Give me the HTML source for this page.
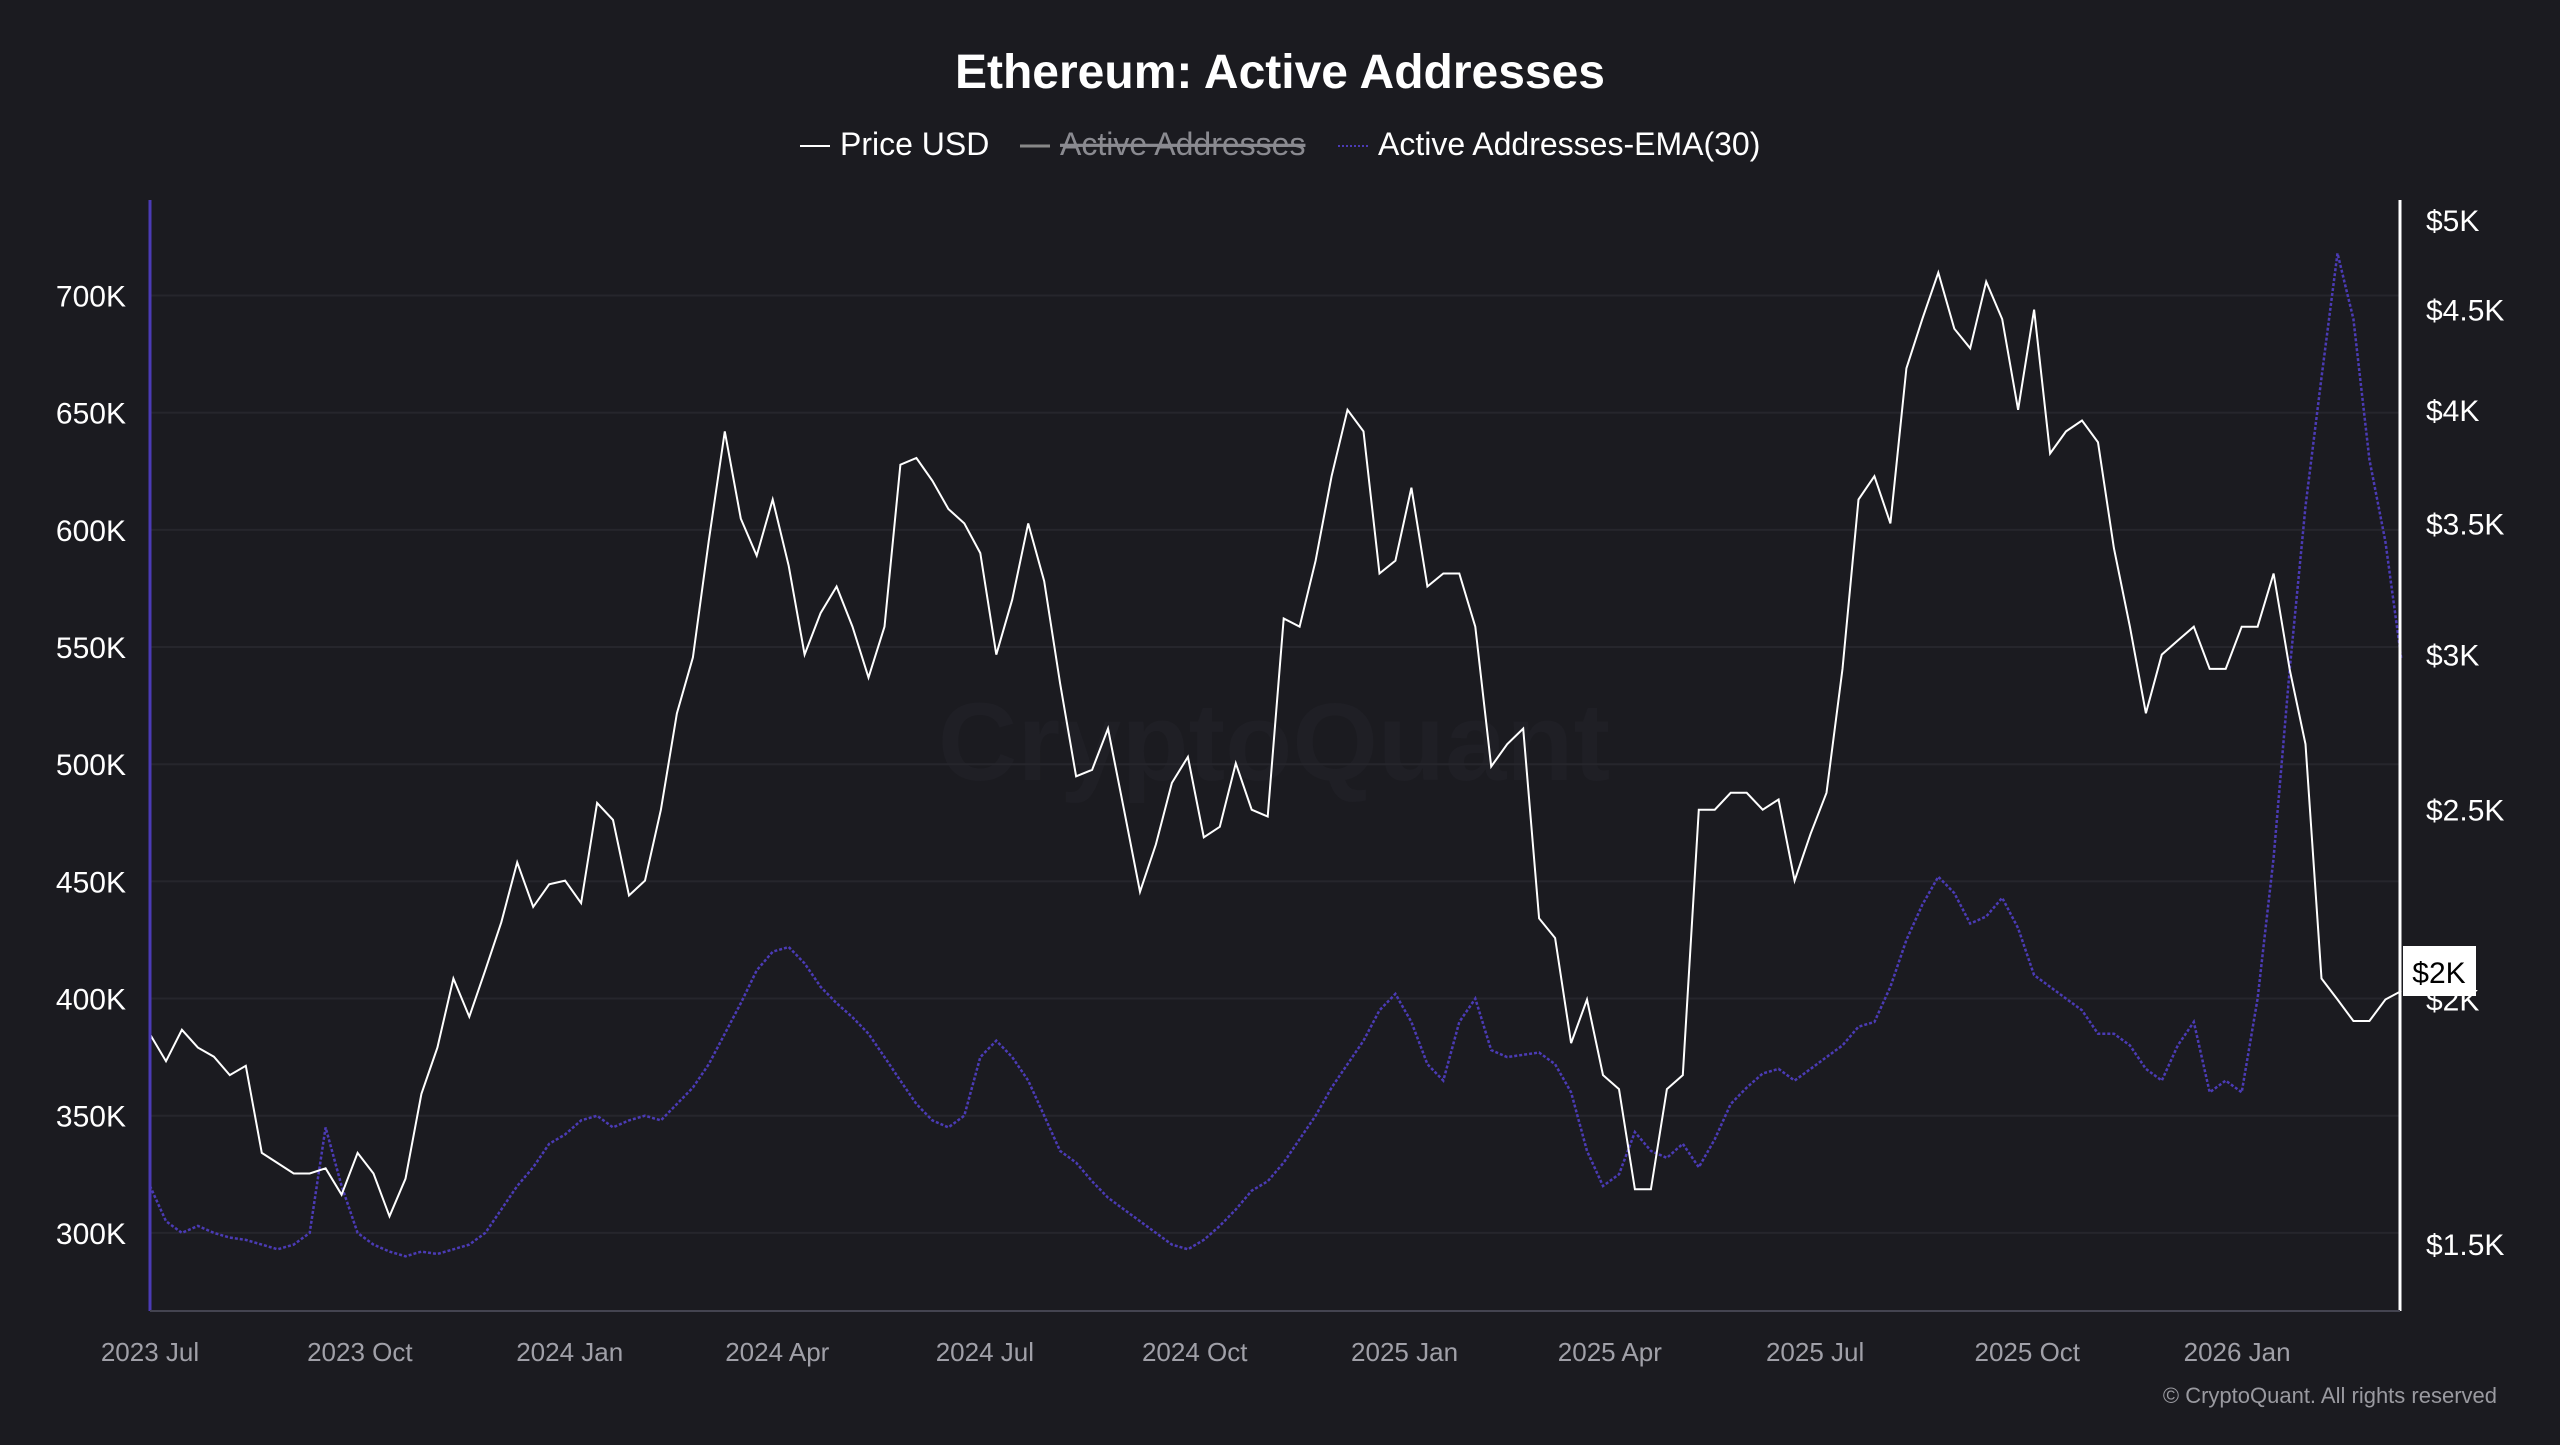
<!DOCTYPE html>
<html><head><meta charset="utf-8"><style>
html,body{margin:0;padding:0;background:#1b1b20;}
body{width:2560px;height:1440px;overflow:hidden;font-family:"Liberation Sans",sans-serif;}
</style></head><body>
<svg id="chart" width="2560" height="1440" xmlns="http://www.w3.org/2000/svg">
<rect width="2560" height="1440" fill="#1b1b20"/>
<text x="1280" y="88" text-anchor="middle" fill="#fff" font-size="48" font-weight="bold">Ethereum: Active Addresses</text>
<g font-size="32">
<g><line x1="800" y1="146" x2="830" y2="146" stroke="#fff" stroke-width="2"/><text x="840" y="155" fill="#fff">Price USD</text></g>
<g><line x1="1020" y1="146" x2="1050" y2="146" stroke="#888" stroke-width="3"/><text x="1060" y="155" fill="#8a8a90" text-decoration="line-through">Active Addresses</text></g>
<g><line x1="1338" y1="146" x2="1368" y2="146" stroke="#4b3bb5" stroke-width="2" stroke-dasharray="2,2"/><text x="1378" y="155" fill="#fff">Active Addresses-EMA(30)</text></g>
</g>
<text x="1274" y="780" text-anchor="middle" fill="#1f1f25" font-size="110" font-weight="bold">CryptoQuant</text>
<g id="grid"></g>
<g id="leftAxis"></g>
<g id="rightAxis"></g>
<g id="xAxis"></g>
<g id="series"></g>
<line x1="150" y1="200" x2="150" y2="1311" stroke="#4b3bb5" stroke-width="3"/>
<line x1="2400" y1="200" x2="2400" y2="1311" stroke="#fff" stroke-width="3"/>
<line x1="150" y1="1311" x2="2400" y2="1311" stroke="#444450" stroke-width="2"/>
<g><rect x="2403" y="946" width="73" height="50" fill="#fff"/><text id="lastLbl" x="2439" y="983" text-anchor="middle" font-size="30" fill="#000">$2K</text></g>
<text x="2497" y="1403" text-anchor="end" fill="#9a9aa0" font-size="22">© CryptoQuant. All rights reserved</text>
</svg>
<script>
const leftTicks=[300,350,400,450,500,550,600,650,700];
const rightTicks=[1500,2000,2500,3000,3500,4000,4500,5000];
const rightTickLabels=["$1.5K","$2K","$2.5K","$3K","$3.5K","$4K","$4.5K","$5K"];
const xTickDays=[0,92,184,275,366,458,550,640,730,823,915];
const xTickLabels=["2023 Jul","2023 Oct","2024 Jan","2024 Apr","2024 Jul","2024 Oct","2025 Jan","2025 Apr","2025 Jul","2025 Oct","2026 Jan"];
const price=[1920,1860,1930,1890,1870,1830,1850,1670,1650,1630,1630,1640,1590,1670,1630,1550,1620,1790,1890,2050,1960,2070,2190,2350,2230,2290,2300,
2240,2520,2470,2260,2300,2500,2800,2990,3430,3900,3520,3370,3600,3330,3000,3150,3250,3100,2920,3100,3750,3780,3680,3560,3500,3380,3000,3200,3500,3270,2900,2600,2620,2750,2500,2270,2400,2580,2660,2420,2450,2640,2500,2480,3130,3100,3350,3700,4000,3900,3300,3350,
3650,3250,3300,3300,3100,2630,2700,2750,2200,2150,1900,2000,1830,1800,1600,1600,1800,1830,2500,2500,2550,2550,2500,2530,2300,2430,2550,2950,3600,3700,3500,4200,4450,4700,4400,4300,4650,4450,4000,4500,3800,3900,3950,3850,3400,3100,2800,3000,3050,3100,2950,2950,
3100,3100,3300,2950,2700,2050,2000,1950,1950,2000,2020];
const ema=[320,305,300,303,300,298,297,295,293,295,300,345,320,300,295,292,290,292,291,293,295,300,310,320,328,338,342,348,350,345,348,350,348,355,362,372,385,398,412,420,422,415,405,398,392,385,375,365,355,348,345,350,375,382,375,365,350,335,330,322,315,310,305,300,295,293,297,303,310,318,322,330,340,350,362,372,382,395,402,390,372,365,390,400,378,375,376,377,372,360,335,320,325,343,335,332,338,328,340,355,362,368,370,365,370,375,380,388,390,405,425,440,452,445,432,435,443,430,410,405,400,395,385,385,380,370,365,380,390,360,365,360,400,460,540,610,665,718,690,630,595,545];
const X0=150,PXD=2.281,STEP=7;
const xs=d=>X0+d*PXD;
const yL=v=>295.5+(700-v)*2.3435;
const yR=p=>220+Math.log(5000/p)*850.7;
const NS="http://www.w3.org/2000/svg";
function mk(tag,attrs,parent){const e=document.createElementNS(NS,tag);for(const k in attrs)e.setAttribute(k,attrs[k]);parent.appendChild(e);return e;}
const grid=document.getElementById('grid'),la=document.getElementById('leftAxis'),ra=document.getElementById('rightAxis'),xa=document.getElementById('xAxis'),ser=document.getElementById('series');
leftTicks.forEach(v=>{
 const l=mk('line',{x1:150,x2:2400,y1:yL(v),y2:yL(v),stroke:'#26262c','stroke-width':2},grid);
 
 
 const t=mk('text',{x:126,y:yL(v)+11,'text-anchor':'end',fill:'#fff','font-size':30},la);
 t.textContent=v+'K';
 
 
});
rightTicks.forEach((p,i)=>{
 const t=mk('text',{x:2426,y:yR(p)+11,fill:'#fff','font-size':30},ra);
 t.textContent=rightTickLabels[i];
 
 
});
xTickDays.forEach((d,i)=>{
 const t=mk('text',{x:xs(d),y:1361,'text-anchor':'middle',fill:'#a0a0a8','font-size':26},xa);
 t.textContent=xTickLabels[i];
 
 
});
const emaPts=ema.map((v,i)=>xs(i*STEP).toFixed(1)+','+yL(v).toFixed(1)).join(' ');
const e=mk('polyline',{points:emaPts,fill:'none',stroke:'#4b3bb5','stroke-width':2.5,'stroke-dasharray':'3,2'},ser);


const prPts=price.map((v,i)=>xs(i*STEP).toFixed(1)+','+yR(v).toFixed(1)).join(' ');
const p=mk('polyline',{points:prPts,fill:'none',stroke:'#fff','stroke-width':2},ser);


</script>
</body></html>
